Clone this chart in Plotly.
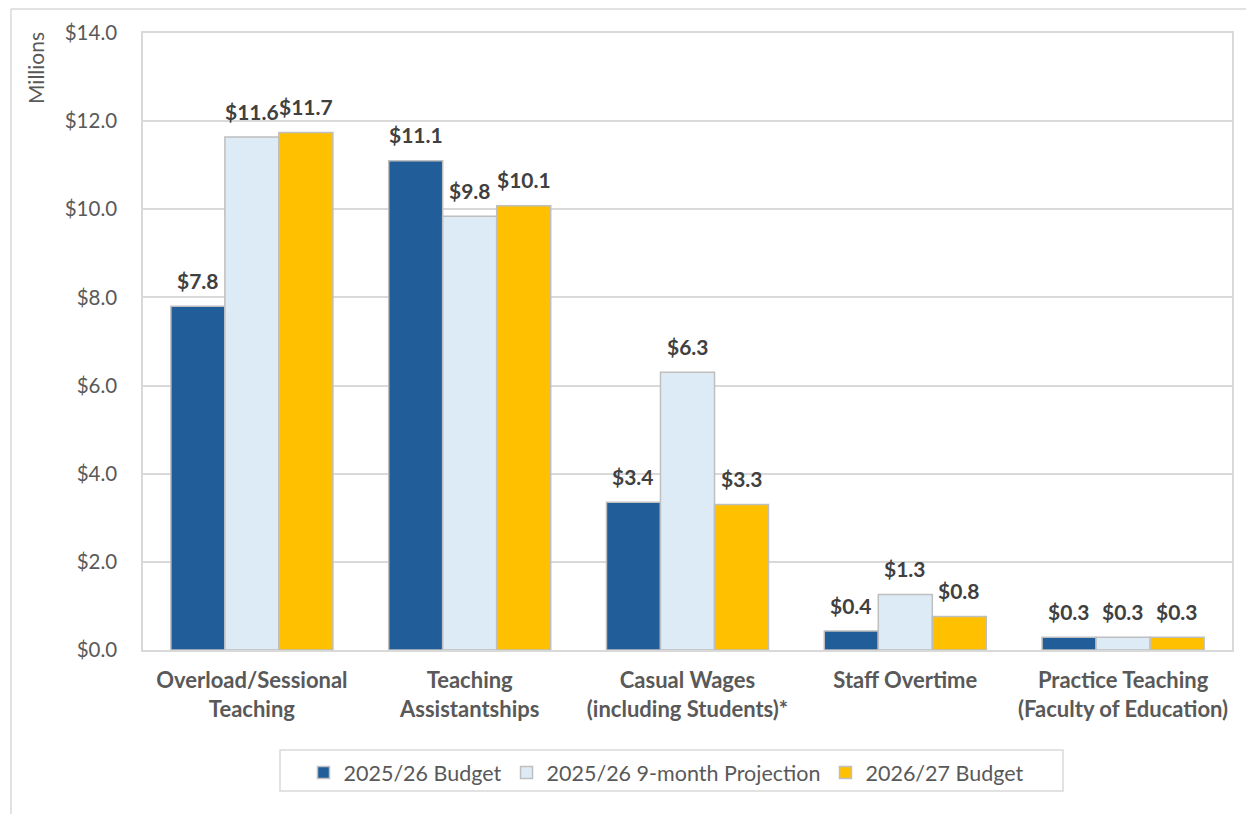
import plotly.graph_objects as go

categories = [
    "Overload/Sessional<br>Teaching",
    "Teaching<br>Assistantships",
    "Casual Wages<br>(including Students)*",
    "Staff Overtime",
    "Practice Teaching<br>(Faculty of Education)",
]
series_names = ["2025/26 Budget", "2025/26 9-month Projection", "2026/27 Budget"]
budget_2526 = [7.8, 11.1, 3.35, 0.43, 0.29]
projection_2526 = [11.64, 9.84, 6.3, 1.26, 0.29]
budget_2627 = [11.74, 10.08, 3.3, 0.76, 0.29]
y_ticks = [0, 2, 4, 6, 8, 10, 12, 14]
y_tick_labels = ["$0.0", "$2.0", "$4.0", "$6.0", "$8.0", "$10.0", "$12.0", "$14.0"]

colors = ["#215E99", "#DDEBF7", "#FFC000"]
values = [budget_2526, projection_2526, budget_2627]

FONT = "Lato"
OFF = 8  # page body margin
W, H = 1246, 806
L, R, T, B = 135, 22, 25, 164
pw, ph = W - L - R, H - T - B
BARGAP = 0.256


def px_x(s):
    return (s - OFF - L) / pw


def px_y(s):
    return (H - B - (s - OFF)) / ph


fig = go.Figure()
for name, vals, col in zip(series_names, values, colors):
    fig.add_trace(go.Bar(
        x=categories, y=vals, name=name,
        marker=dict(color=col, line=dict(color="#BFBFBF", width=1.5)),
    ))

# value labels above bars
bar_px = pw / len(categories) * (1 - BARGAP) / len(series_names)
for i, vals in enumerate(values):
    shift = (i - (len(series_names) - 1) / 2) * bar_px
    for cat, v in zip(categories, vals):
        fig.add_annotation(
            x=cat, y=v, xref="x", yref="y", text=f"${v:.1f}",
            showarrow=False, xshift=shift, yshift=26, yanchor="middle",
            font=dict(family=FONT, size=21, color="#404040", weight="bold"),
        )

fig.update_layout(
    width=W, height=H,
    margin=dict(l=L, r=R, t=T, b=B),
    paper_bgcolor="white", plot_bgcolor="white",
    barmode="group", bargap=BARGAP, bargroupgap=0,
    font=dict(family=FONT, color="#595959"),
    xaxis=dict(
        showline=True, linecolor="#D9D9D9", linewidth=1.5, mirror=True,
        ticks="", tickfont=dict(family=FONT, size=22, color="#595959", weight="bold"),
        ticklabelstandoff=10,
    ),
    yaxis=dict(
        range=[0, 14], tickvals=y_ticks, ticktext=y_tick_labels,
        showgrid=True, gridcolor="#D9D9D9", gridwidth=1.5,
        showline=True, linecolor="#D9D9D9", linewidth=1.5, mirror=True,
        zeroline=False, ticks="", ticklabelstandoff=20,
        tickfont=dict(family=FONT, size=20.5, color="#595959"),
    ),
    legend=dict(
        orientation="h", x=px_x(666), xanchor="center", y=px_y(752), yanchor="top",
        borderwidth=0, bgcolor="rgba(0,0,0,0)",
        font=dict(family=FONT, size=21.5, color="#595959"),
        traceorder="normal", itemwidth=30,
    ),
    showlegend=True,
)

fig.add_annotation(
    text="Millions", textangle=-90, xref="paper", yref="paper",
    x=px_x(36), y=px_y(68), xanchor="center", yanchor="middle", showarrow=False,
    font=dict(family=FONT, size=21, color="#595959"),
)

# legend frame
fig.add_shape(type="rect", xref="paper", yref="paper",
              x0=px_x(280), x1=px_x(1063), y0=px_y(750), y1=px_y(791),
              line=dict(color="#D9D9D9", width=1.5), layer="below")

# outer chart border (left and top edges)
fig.add_shape(type="line", xref="paper", yref="paper",
              x0=px_x(11), x1=px_x(11), y0=px_y(9), y1=px_y(830),
              line=dict(color="#D9D9D9", width=1.5))
fig.add_shape(type="line", xref="paper", yref="paper",
              x0=px_x(11), x1=px_x(1270), y0=px_y(9), y1=px_y(9),
              line=dict(color="#D9D9D9", width=1.5))

fig.write_html("out.html")
